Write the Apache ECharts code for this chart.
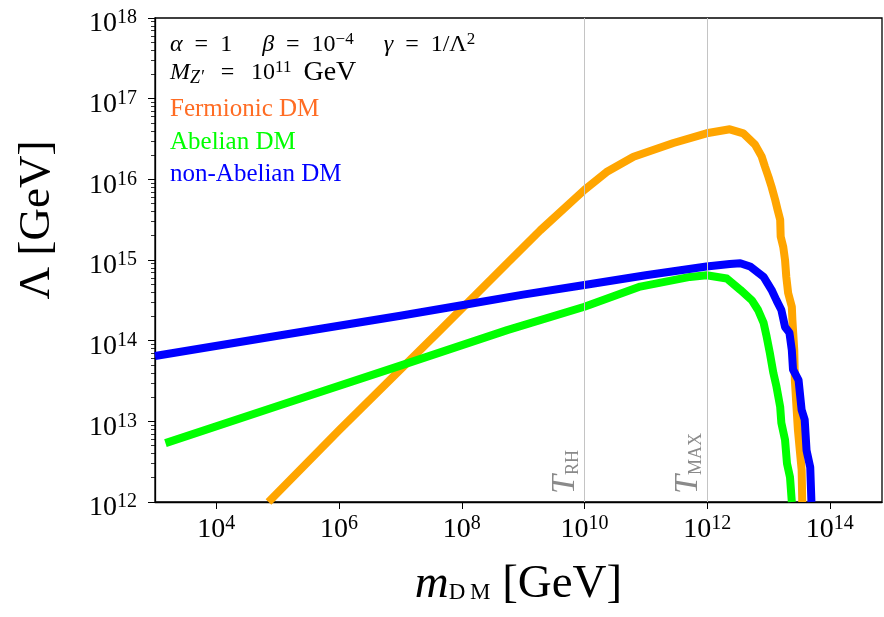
<!DOCTYPE html>
<html><head><meta charset="utf-8">
<script src="https://cdn.jsdelivr.net/npm/echarts@6/dist/echarts.min.js"></script>
<style>html,body{margin:0;padding:0;background:#fff}#c{width:884px;height:617px}</style>
</head><body><div id="c"></div>
<script>
// ---- data ----
const xTicks = [1e4, 1e6, 1e8, 1e10, 1e12, 1e14];
const yTicks = [1e12, 1e13, 1e14, 1e15, 1e16, 1e17, 1e18];
const minorMultipliers = [2, 3, 4, 5, 6, 7, 8, 9];
const guideX = [1e10, 1e12];
const guideSub = ['RH', 'MAX'];

const fermionicM = [7.08e4, 1e6, 4.47e7, 5.5e8, 1.91e9, 1.0e10, 2.29e10, 6.31e10, 2.82e11, 9.77e11, 2.34e12, 3.89e12, 6.03e12, 7.76e12, 8.71e12, 1.0e13, 1.12e13, 1.29e13, 1.41e13, 1.55e13, 1.58e13, 1.74e13, 1.86e13, 1.95e13, 2.09e13, 2.40e13, 2.45e13, 2.63e13, 2.69e13, 2.88e13, 3.02e13, 3.24e13, 3.47e13, 3.55e13];
const fermionicL = [1.0e12, 7.76e12, 1.35e14, 9.12e14, 2.34e15, 7.41e15, 1.23e16, 1.91e16, 2.82e16, 3.72e16, 4.17e16, 3.72e16, 2.69e16, 1.91e16, 1.45e16, 1.07e16, 8.13e15, 5.5e15, 4.17e15, 3.16e15, 1.95e15, 1.45e15, 1.0e15, 6.17e14, 3.89e14, 2.63e14, 1.82e14, 7.59e13, 3.24e13, 1.38e13, 7.76e12, 4.37e12, 2.51e12, 1.0e12];

const abelianM = [1.48e3, 1e5, 1e7, 5.5e8, 1e10, 8.13e10, 5.25e11, 9.77e11, 2.09e12, 3.47e12, 5.37e12, 6.76e12, 8.32e12, 9.33e12, 1.05e13, 1.2e13, 1.35e13, 1.55e13, 1.62e13, 1.86e13, 2.0e13, 2.24e13, 2.4e13];
const abelianL = [5.37e12, 1.55e13, 4.9e13, 1.35e14, 2.63e14, 4.68e14, 6.17e14, 6.46e14, 5.89e14, 4.27e14, 3.16e14, 2.4e14, 1.66e14, 1.12e14, 7.08e13, 3.98e13, 2.69e13, 1.51e13, 9.55e12, 5.89e12, 3.02e12, 2.04e12, 1.0e12];

const nonAbelianM = [1e3, 1e5, 1e7, 1e8, 1e9, 1e10, 1e11, 9.77e11, 2.34e12, 3.47e12, 5.01e12, 8.32e12, 1.12e13, 1.35e13, 1.62e13, 1.86e13, 2.19e13, 2.4e13, 2.51e13, 3.09e13, 3.47e13, 3.89e13, 4.17e13, 4.79e13, 5.01e13];
const nonAbelianL = [6.46e13, 1.15e14, 2.04e14, 2.75e14, 3.72e14, 4.9e14, 6.46e14, 8.32e14, 8.91e14, 9.12e14, 8.32e14, 6.17e14, 4.27e14, 3.16e14, 2.4e14, 1.48e14, 1.26e14, 7.59e13, 4.37e13, 3.24e13, 1.38e13, 1.05e13, 4.37e12, 2.69e12, 1.0e12];

// ---- chart ----
const FONT = '"Liberation Serif", "DejaVu Serif", serif';
const pairs = (xs, ys) => xs.map((x, i) => [x, ys[i]]);
const yMinor = [];
for (let i = 0; i < yTicks.length - 1; i++) minorMultipliers.forEach(k => yMinor.push(yTicks[i] * k));
const Y_MAX = yTicks[yTicks.length - 1] * 1.00001;

const tickRich = {
  b: { fontFamily: FONT, fontSize: 28, lineHeight: 32, color: '#000' },
  s: { fontFamily: FONT, fontSize: 20, lineHeight: 18, verticalAlign: 'top', color: '#000' }
};
const powLabel = v => '{b|10}{s|' + Math.round(Math.log10(v)) + '}';

const chart = echarts.init(document.getElementById('c'), null, { renderer: 'canvas' });
const lineSeries = (name, data, color) => ({
  name, type: 'line', data, showSymbol: false, symbol: 'none', z: 3,
  lineStyle: { color, width: 8, cap: 'butt', join: 'round' }, clip: true, animation: false
});

const textRich = {
  i: { fontFamily: FONT, fontStyle: 'italic', fontSize: 24, lineHeight: 28 },
  s: { fontFamily: FONT, fontSize: 17, lineHeight: 14, verticalAlign: 'top' },
  zb: { fontFamily: FONT, fontStyle: 'italic', fontSize: 18, lineHeight: 16, verticalAlign: 'bottom' },
  g: { fontFamily: FONT, fontSize: 28, lineHeight: 28 }
};

chart.setOption({
  animation: false,
  backgroundColor: '#fff',
  grid: { left: 155, right: 2, top: 18, bottom: 115, show: true, borderColor: '#000', borderWidth: 1.3, outerBoundsMode: 'none' },
  xAxis: {
    type: 'log', logBase: 10, min: 1e3, max: 7.08e14,
    name: '{i|m}{d|D\u2009M} [GeV]', nameLocation: 'middle', nameGap: 58,
    nameTextStyle: { fontFamily: FONT, fontSize: 47, color: '#000', lineHeight: 50,
      rich: { i: { fontFamily: FONT, fontStyle: 'italic', fontSize: 47, lineHeight: 50 },
              d: { fontFamily: FONT, fontSize: 23, lineHeight: 24, verticalAlign: 'middle', padding: [16, 0, 0, 0] } } },
    axisLine: { show: true, lineStyle: { color: '#000', width: 1.3 } },
    axisTick: { show: true, length: 7, inside: false, customValues: xTicks, lineStyle: { color: '#000', width: 1 } },
    axisLabel: { show: true, margin: 12, customValues: xTicks, formatter: powLabel, rich: tickRich, showMinLabel: true, showMaxLabel: true },
    splitLine: { show: false }, minorTick: { show: false }
  },
  yAxis: [{
    type: 'log', logBase: 10, min: yTicks[0], max: Y_MAX,
    name: 'Λ [GeV]', nameLocation: 'middle', nameGap: 95, nameRotate: 90,
    nameTextStyle: { fontFamily: FONT, fontSize: 45, color: '#000', padding: [0, 0, 0, 80] },
    axisLine: { show: true, lineStyle: { color: '#000', width: 1.3 } },
    axisTick: { show: true, length: 7, customValues: yTicks, lineStyle: { color: '#000', width: 1 } },
    axisLabel: { show: true, margin: 18, padding: [12, 0, 0, 0], customValues: yTicks, formatter: powLabel, rich: tickRich, showMinLabel: true, showMaxLabel: true },
    splitLine: { show: false }
  }, {
    type: 'log', logBase: 10, min: yTicks[0], max: Y_MAX, position: 'left', offset: 0,
    axisLine: { show: false },
    axisTick: { show: true, length: 4, customValues: yMinor, lineStyle: { color: '#000', width: 0.8 } },
    axisLabel: { show: false }, splitLine: { show: false }
  }],
  graphic: [
    { type: 'text', left: 170, top: 31, z: 10, style: {
      text: '{i|α}\u2002=\u20021\u2003 {i|β}\u2002=\u200210{s|−4}\u2003 {i|γ}\u2002=\u20021/Λ{s|2}',
      fontFamily: FONT, fontSize: 24, lineHeight: 28, fill: '#000', rich: textRich } },
    { type: 'text', left: 170, top: 59, z: 10, style: {
      text: '{i|M}{zb|Z′}\u2002\u2009=\u2002\u200910{s|11}\u2002{g|GeV}',
      fontFamily: FONT, fontSize: 24, lineHeight: 28, fill: '#000', rich: textRich } },
    { type: 'text', left: 170, top: 97, z: 10, style: { text: 'Fermionic DM', fontFamily: FONT, fontSize: 25, fill: '#ff6c23' } },
    { type: 'text', left: 170, top: 130, z: 10, style: { text: 'Abelian DM', fontFamily: FONT, fontSize: 25, fill: '#00ff00' } },
    { type: 'text', left: 170, top: 162, z: 10, style: { text: 'non-Abelian DM', fontFamily: FONT, fontSize: 25, fill: '#0000ff' } }
  ],
  series: [
    { name: 'guides', type: 'line', data: [], z: 1, animation: false,
      markLine: { silent: true, symbol: 'none', animation: false,
        lineStyle: { color: '#c4c4c4', width: 1, type: 'solid' },
        label: { show: true, position: 'insideStartTop', distance: [8, 2], color: '#8a8a8a',
          rich: { t: { fontFamily: FONT, fontStyle: 'italic', fontSize: 34, color: '#8a8a8a', lineHeight: 34 },
                  s: { fontFamily: FONT, fontSize: 18, color: '#8a8a8a', lineHeight: 16, verticalAlign: 'bottom' } } },
        data: guideX.map((x, i) => ({ xAxis: x, label: { formatter: '{t|T}{s|' + guideSub[i] + '}' } })) } },
    lineSeries('Fermionic DM', pairs(fermionicM, fermionicL), '#ffa500'),
    lineSeries('Abelian DM', pairs(abelianM, abelianL), '#00ff00'),
    lineSeries('non-Abelian DM', pairs(nonAbelianM, nonAbelianL), '#0000ff')
  ]
});
</script></body></html>
